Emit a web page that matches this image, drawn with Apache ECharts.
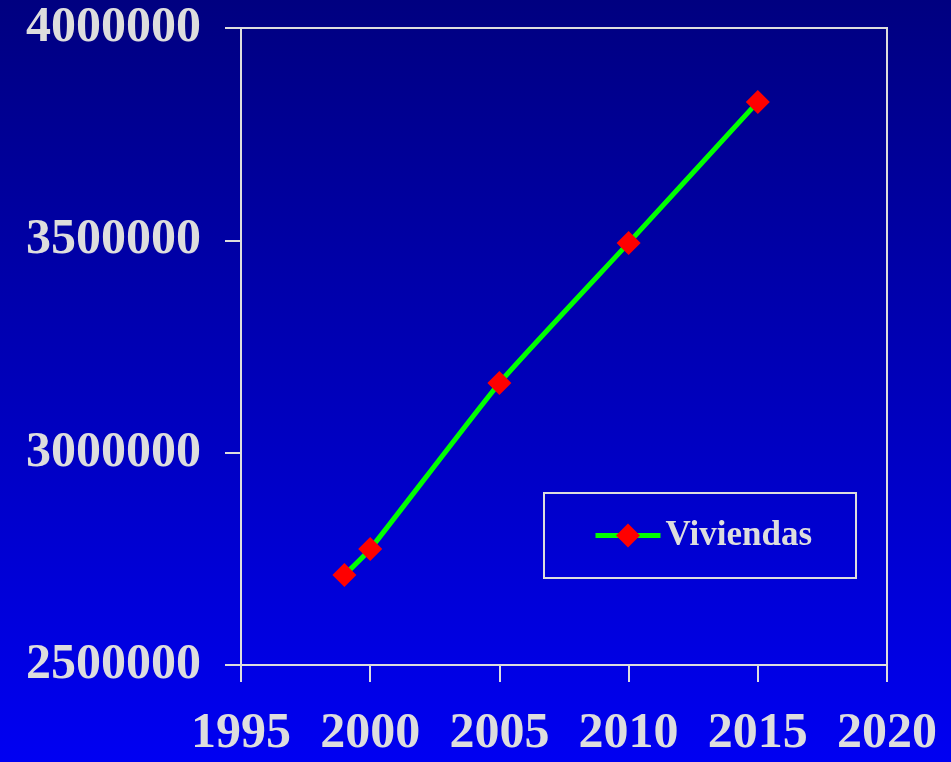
<!DOCTYPE html>
<html>
<head>
<meta charset="utf-8">
<script src="https://cdn.jsdelivr.net/npm/echarts@6/dist/echarts.min.js"></script>
<style>
  html, body { margin: 0; padding: 0; }
  body { width: 951px; height: 762px; background: linear-gradient(to bottom, #000080, #0000f2); }
  #chart { width: 951px; height: 762px; }
</style>
</head>
<body>
<div id="chart"></div>
<script>
  // datos
  var years = [1999, 2000, 2005, 2010, 2015];
  var viviendas = [2712000, 2773000, 3164000, 3494000, 3826000];
  var seriesName = 'Viviendas';

  var fontFam = '"Liberation Serif", "Times New Roman", serif';
  var grey = '#dddddd';

  var pts = [];
  for (var i = 0; i < years.length; i++) {
    pts.push([years[i], viviendas[i]]);
  }

  function plain(v) { return String(v); }

  var myChart = echarts.init(document.getElementById('chart'));
  var option = {
    backgroundColor: 'transparent',
    animation: false,
    grid: {
      left: 241, right: 64, top: 28, bottom: 97,
      show: true,
      borderColor: grey,
      borderWidth: 2
    },
    legend: {
      data: [seriesName],
      left: 544,
      top: 493,
      orient: 'horizontal',
      padding: [25, 44, 25, 49],
      borderColor: grey,
      borderWidth: 2,
      itemWidth: 65,
      itemHeight: 30,
      itemGap: 0,
      lineStyle: { width: 5 },
      textStyle: { color: grey, fontFamily: fontFam, fontWeight: 'bold', fontSize: 35 }
    },
    xAxis: {
      type: 'value',
      min: 1995,
      max: 2020,
      interval: 5,
      axisLine: { show: true, lineStyle: { color: grey, width: 2 } },
      axisTick: { show: true, inside: false, length: 17, lineStyle: { color: grey, width: 2 } },
      splitLine: { show: false },
      axisLabel: { color: grey, fontFamily: fontFam, fontWeight: 'bold', fontSize: 50, margin: 44, formatter: plain }
    },
    yAxis: {
      type: 'value',
      min: 2500000,
      max: 4000000,
      interval: 500000,
      axisLine: { show: true, lineStyle: { color: grey, width: 2 } },
      axisTick: { show: true, inside: false, length: 16, lineStyle: { color: grey, width: 2 } },
      splitLine: { show: false },
      axisLabel: { color: grey, fontFamily: fontFam, fontWeight: 'bold', fontSize: 50, margin: 40, formatter: plain }
    },
    series: [
      {
        name: seriesName,
        type: 'line',
        data: pts,
        smooth: 0.15,
        symbol: 'diamond',
        symbolSize: 24,
        lineStyle: { color: '#00ff00', width: 5 },
        itemStyle: { color: '#ff0000', borderWidth: 0 }
      }
    ]
  };
  myChart.setOption(option);
</script>
</body>
</html>
